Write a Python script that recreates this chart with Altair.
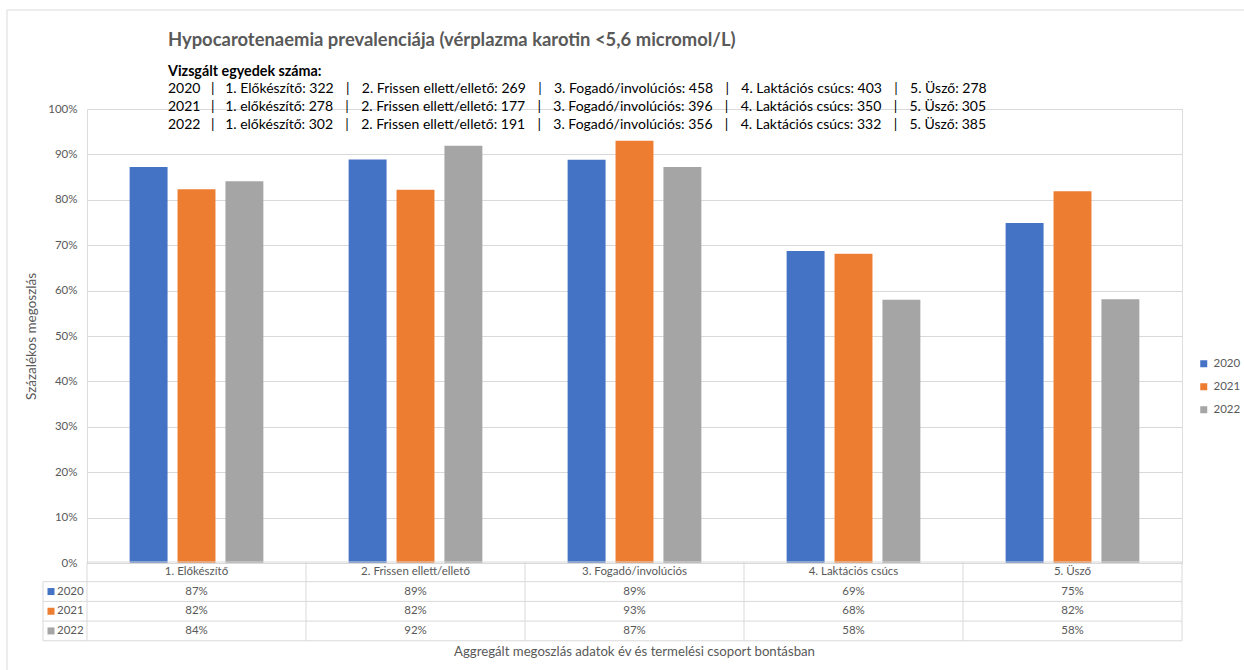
import altair as alt
import pandas as pd

# Production groups and years
categories = [
    "1. Előkészítő",
    "2. Frissen ellett/ellető",
    "3. Fogadó/involúciós",
    "4. Laktációs csúcs",
    "5. Üsző",
]
years = ["2020", "2021", "2022"]
colors = ["#4472C4", "#ED7D31", "#A5A5A5"]

# Share of animals with plasma carotene < 5.6 micromol/L
share_2020 = [0.872, 0.889, 0.888, 0.687, 0.749]
share_2021 = [0.823, 0.822, 0.930, 0.681, 0.819]
share_2022 = [0.841, 0.919, 0.872, 0.580, 0.581]

# Number of animals examined
count_labels = {
    "2020": ["1. Előkészítő", "2. Frissen ellett/ellető", "3. Fogadó/involúciós", "4. Laktációs csúcs", "5. Üsző"],
    "2021": ["1. előkészítő", "2. Frissen ellett/ellető", "3. Fogadó/involúciós", "4. Laktációs csúcs", "5. Üsző"],
    "2022": ["1. előkészítő", "2. Frissen ellett/ellető", "3. Fogadó/involúciós", "4. Laktációs csúcs", "5. Üsző"],
}
counts_2020 = [322, 269, 458, 403, 278]
counts_2021 = [278, 177, 396, 350, 305]
counts_2022 = [302, 191, 356, 332, 385]

shares = {"2020": share_2020, "2021": share_2021, "2022": share_2022}
counts = {"2020": counts_2020, "2021": counts_2021, "2022": counts_2022}

rows = []
for y in years:
    for c, v in zip(categories, shares[y]):
        rows.append({"cat": c, "year": y, "share": v})
df = pd.DataFrame(rows)

FONT = "Lato"
GREY_TXT = "#595959"
GRID = "#D9D9D9"

W, H = 1095, 454
PAD_L, PAD_T = 87, 109
PAD_R = 1244 - PAD_L - W
PAD_B = 670 - PAD_T - H

x_enc = alt.X("cat:N", sort=categories,
              scale=alt.Scale(paddingInner=0, paddingOuter=0), axis=None)

bars = alt.Chart(df).mark_bar().encode(
    x=x_enc,
    xOffset=alt.XOffset("year:N", sort=years,
                        scale=alt.Scale(paddingInner=0.208, paddingOuter=0.89)),
    y=alt.Y("share:Q",
            scale=alt.Scale(domain=[0, 1], nice=False),
            axis=alt.Axis(format=".0%", values=[i / 10 for i in range(11)],
                          grid=True, gridColor=GRID, domain=False, ticks=False,
                          labelPadding=10, labelFontSize=11.5, labelColor=GREY_TXT,
                          title="Százalékos megoszlás", titleFontSize=13.5,
                          titleFontWeight="normal", titleColor=GREY_TXT,
                          titlePadding=9)),
    color=alt.Color("year:N", sort=years,
                    scale=alt.Scale(domain=years, range=colors),
                    legend=alt.Legend(title=None, orient="none", legendX=1111,
                                      legendY=249, symbolType="square",
                                      symbolSize=49, symbolStrokeWidth=0,
                                      labelFontSize=11.5, labelColor=GREY_TXT,
                                      rowPadding=10, labelOffset=4)),
)


def text_layer(txt, x, y, size=13, color="black", weight="normal", align="left"):
    return alt.Chart(pd.DataFrame({"t": [txt]})).mark_text(
        align=align, baseline="middle", fontSize=size, color=color,
        fontWeight=weight, font=FONT,
    ).encode(text="t:N", x=alt.value(x), y=alt.value(y))


def rule_layer(x, x2, y, y2):
    return alt.Chart(pd.DataFrame({"k": [0]})).mark_rule(
        color=GRID, strokeWidth=1
    ).encode(x=alt.value(x), x2=alt.value(x2), y=alt.value(y), y2=alt.value(y2))


layers = [bars]

# Title and sample sizes
layers.append(text_layer("Hypocarotenaemia prevalenciája (vérplazma karotin <5,6 micromol/L)",
                         81, -69, size=18.4, color=GREY_TXT, weight="bold"))
layers.append(text_layer("Vizsgált egyedek száma:", 81, -37, size=14.3, weight="bold"))
first_sep = "\u00a0\u2002|\u2002\u00a0"
sep = "\u00a0\u2009\u2002|\u2002\u2009\u00a0"
for i, y in enumerate(years):
    parts = [f"{n}: {c}" for n, c in zip(count_labels[y], counts[y])]
    line = y + first_sep + sep.join(parts)
    layers.append(text_layer(line, 81, -20 + 18 * i, size=14))

# Data table under the plot
tbl_top = H - 1
row_h = 19.7
tbl_bottom = tbl_top + 4 * row_h
layers.append(rule_layer(0, W, tbl_top, tbl_top))
for r in range(1, 5):
    yy = tbl_top + r * row_h
    layers.append(rule_layer(-44, W, yy, yy))
layers.append(rule_layer(-44, -44, tbl_top + row_h, tbl_bottom))

cat_df = pd.DataFrame({"cat": categories})
layers.append(alt.Chart(cat_df).mark_rule(color=GRID).encode(
    x=alt.X("cat:N", sort=categories, bandPosition=0,
            scale=alt.Scale(paddingInner=0, paddingOuter=0), axis=None),
    y=alt.value(tbl_top), y2=alt.value(tbl_bottom)))
layers.append(rule_layer(W, W, tbl_top, tbl_bottom))

layers.append(alt.Chart(cat_df).mark_text(
    baseline="middle", fontSize=11.5, color=GREY_TXT, font=FONT
).encode(x=x_enc, y=alt.value(tbl_top + row_h / 2), text="cat:N"))

for i, y in enumerate(years):
    cy = tbl_top + row_h * (i + 1.5)
    layers.append(alt.Chart(df[df.year == y]).mark_text(
        baseline="middle", fontSize=11.5, color=GREY_TXT, font=FONT
    ).encode(x=x_enc, y=alt.value(cy), text=alt.Text("share:Q", format=".0%")))
    layers.append(alt.Chart(pd.DataFrame({"year": [y]})).mark_square(
        size=49, opacity=1, color=colors[i]
    ).encode(x=alt.value(-36), y=alt.value(cy)))
    layers.append(text_layer(y, -30, cy, size=11.5, color=GREY_TXT))

# Horizontal axis caption
layers.append(text_layer("Aggregált megoszlás adatok év és termelési csoport bontásban",
                         W / 2, 543, size=13.2, color=GREY_TXT, align="center"))

# Frame of the chart area
layers.append(rule_layer(-80, 1244 - PAD_L, -99, -99))
layers.append(rule_layer(-80, -80, -99, 670 - PAD_T))

chart = alt.layer(*layers).properties(
    width=W, height=H,
    padding={"left": PAD_L, "top": PAD_T, "right": PAD_R, "bottom": PAD_B},
    autosize=alt.AutoSizeParams(type="none"),
    background="white",
).configure_view(stroke=None).configure(font=FONT)

chart.save("out.html", embed_options={"renderer": "svg", "actions": False})
